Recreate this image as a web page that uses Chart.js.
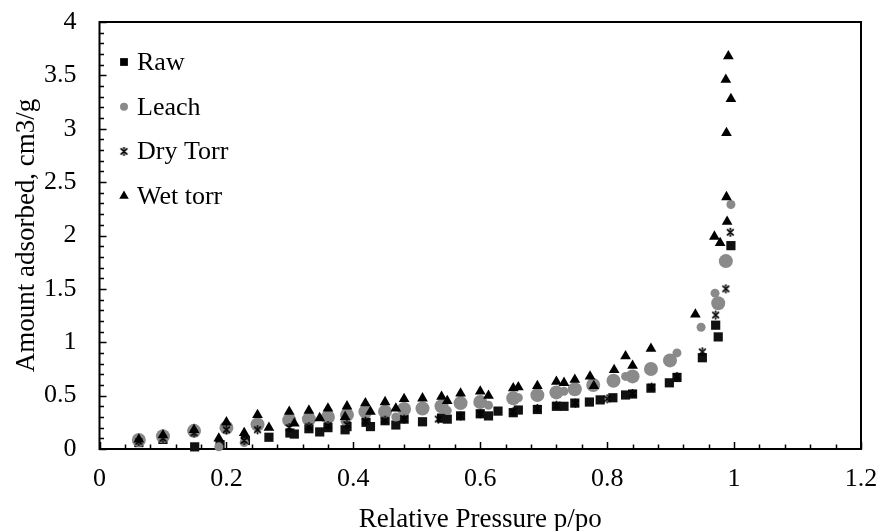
<!DOCTYPE html>
<html>
<head>
<meta charset="utf-8">
<script src="https://cdn.jsdelivr.net/npm/chart.js@4/dist/chart.umd.min.js"></script>
<style>
  html, body { margin: 0; padding: 0; background: #fff; }
</style>
</head>
<body>
<canvas id="myChart" width="880" height="531"></canvas>
<script>
// isotherm data (x = relative pressure, y = amount adsorbed)
let rawX = [0.062, 0.1, 0.15, 0.19, 0.23, 0.267, 0.3, 0.307, 0.33, 0.347, 0.36, 0.387, 0.39, 0.42, 0.427, 0.45, 0.467, 0.48, 0.509, 0.539, 0.548, 0.569, 0.6, 0.613, 0.628, 0.652, 0.66, 0.69, 0.72, 0.732, 0.749, 0.772, 0.789, 0.809, 0.829, 0.84, 0.869, 0.898, 0.91, 0.95, 0.971, 0.975, 0.995]
let rawY = [0.06, 0.09, 0.02, 0.04, 0.08, 0.11, 0.15, 0.14, 0.19, 0.16, 0.2, 0.18, 0.21, 0.25, 0.21, 0.265, 0.225, 0.28, 0.255, 0.29, 0.28, 0.31, 0.33, 0.31, 0.355, 0.34, 0.365, 0.37, 0.4, 0.4, 0.43, 0.44, 0.46, 0.48, 0.506, 0.515, 0.57, 0.62, 0.67, 0.855, 1.16, 1.05, 1.905]

// leach has big markers on one branch and small ones on the other
let leachX = [0.062, 0.1, 0.149, 0.2, 0.249, 0.299, 0.33, 0.36, 0.39, 0.419, 0.45, 0.48, 0.509, 0.539, 0.569, 0.6, 0.652, 0.69, 0.72, 0.749, 0.778, 0.81, 0.84, 0.869, 0.899, 0.975, 0.987]
let leachY = [0.085, 0.12, 0.17, 0.2, 0.23, 0.27, 0.28, 0.3, 0.32, 0.35, 0.35, 0.375, 0.38, 0.4, 0.43, 0.44, 0.475, 0.505, 0.53, 0.56, 0.6, 0.64, 0.68, 0.75, 0.83, 1.365, 1.76]
let leach2X = [0.188, 0.228, 0.387, 0.467, 0.548, 0.613, 0.66, 0.732, 0.829, 0.91, 0.948, 0.97, 0.995]
let leach2Y = [0.02, 0.06, 0.26, 0.3, 0.36, 0.41, 0.48, 0.54, 0.68, 0.9, 1.14, 1.46, 2.29]

let dryX = [0.062, 0.1, 0.149, 0.2, 0.228, 0.249, 0.299, 0.33, 0.36, 0.39, 0.419, 0.45, 0.48, 0.534, 0.569, 0.6, 0.652, 0.69, 0.72, 0.75, 0.8, 0.84, 0.87, 0.91, 0.95, 0.971, 0.987, 0.994]
let dryY = [0.07, 0.1, 0.15, 0.18, 0.08, 0.18, 0.2, 0.21, 0.22, 0.23, 0.26, 0.27, 0.28, 0.28, 0.31, 0.33, 0.35, 0.38, 0.41, 0.43, 0.47, 0.52, 0.58, 0.68, 0.91, 1.255, 1.5, 2.03]

let wetX = [0.062, 0.1, 0.149, 0.188, 0.2, 0.228, 0.249, 0.267, 0.299, 0.307, 0.33, 0.347, 0.36, 0.387, 0.39, 0.419, 0.427, 0.45, 0.467, 0.48, 0.509, 0.539, 0.548, 0.569, 0.6, 0.613, 0.652, 0.66, 0.69, 0.72, 0.732, 0.749, 0.773, 0.779, 0.811, 0.829, 0.84, 0.869, 0.939, 0.969, 0.978, 0.988, 0.989, 0.988, 0.987, 0.991, 0.995]
let wetY = [0.09, 0.13, 0.18, 0.1, 0.25, 0.15, 0.32, 0.2, 0.35, 0.24, 0.36, 0.29, 0.38, 0.3, 0.4, 0.43, 0.35, 0.44, 0.38, 0.47, 0.475, 0.49, 0.45, 0.52, 0.54, 0.5, 0.57, 0.58, 0.59, 0.63, 0.62, 0.65, 0.68, 0.59, 0.74, 0.87, 0.78, 0.94, 1.26, 1.99, 1.93, 2.36, 2.13, 2.96, 3.46, 3.68, 3.28]

let seriesNames = ['Raw', 'Leach', 'Dry Torr', 'Wet torr']
let xTicks = [0, 0.2, 0.4, 0.6, 0.8, 1, 1.2]
let yTicks = [0, 0.5, 1, 1.5, 2, 2.5, 3, 3.5, 4]

let serif = "'Liberation Serif', 'Times New Roman', serif"
let gray = '#8a8a8a'

// zip two arrays into {x, y} points
function toPoints(xs, ys) {
  let pts = []
  for (let i = 0; i < xs.length; i++) {
    pts.push({ x: xs[i], y: ys[i] })
  }
  return pts
}

// excel style "star" marker: an X with a vertical bar through it
function makeStar(size) {
  let c = document.createElement('canvas')
  c.width = size
  c.height = size
  let g = c.getContext('2d')
  let m = size / 2
  let r = size / 2 - 1
  g.strokeStyle = '#000'
  g.lineWidth = 1.7
  g.beginPath()
  g.moveTo(m - r * 0.75, m - r * 0.7); g.lineTo(m + r * 0.75, m + r * 0.7)
  g.moveTo(m + r * 0.75, m - r * 0.7); g.lineTo(m - r * 0.75, m + r * 0.7)
  g.moveTo(m, m - r); g.lineTo(m, m - r * 0.45)
  g.moveTo(m, m + r * 0.45); g.lineTo(m, m + r)
  g.stroke()
  return c
}
let star = makeStar(11)

let fmt = function(v) {
  return String(Math.round(v * 10) / 10)
}

// box round the plot plus small inward tick marks
let frame = {
  id: 'frame',
  beforeDatasetsDraw(chart) {
    let ctx = chart.ctx
    let a = chart.chartArea
    let sx = chart.scales.x
    let sy = chart.scales.y
    ctx.save()
    ctx.strokeStyle = '#000'
    ctx.lineWidth = 2
    ctx.strokeRect(a.left, a.top, a.right - a.left, a.bottom - a.top)
    ctx.lineWidth = 1.5
    ctx.beginPath()
    for (let i = 0; i <= 30; i++) {
      let px = Math.round(sx.getPixelForValue(i * 0.04)) + 0.5
      let len = (i % 5 === 0) ? 7 : 4.5
      ctx.moveTo(px, a.bottom)
      ctx.lineTo(px, a.bottom - len)
    }
    for (let i = 0; i <= 40; i++) {
      let py = Math.round(sy.getPixelForValue(i * 0.1)) + 0.5
      let len = (i % 5 === 0) ? 7 : 4.5
      ctx.moveTo(a.left, py)
      ctx.lineTo(a.left + len, py)
    }
    ctx.stroke()
    ctx.restore()
  }
}

// legend drawn inside the plot, top left, one entry per line
let innerLegend = {
  id: 'innerLegend',
  afterDraw(chart) {
    let ctx = chart.ctx
    let styles = [
      { pointStyle: 'rect', radius: 5.5, color: '#000' },
      { pointStyle: 'circle', radius: 4, color: gray },
      { pointStyle: star, radius: 5, color: '#000' },
      { pointStyle: 'triangle', radius: 5.5, color: '#000' }
    ]
    ctx.save()
    ctx.font = '26px ' + serif
    ctx.textBaseline = 'middle'
    ctx.textAlign = 'left'
    for (let i = 0; i < seriesNames.length; i++) {
      let y = 62 + i * 44.7
      ctx.fillStyle = styles[i].color
      ctx.strokeStyle = styles[i].color
      Chart.helpers.drawPoint(ctx, { pointStyle: styles[i].pointStyle, radius: styles[i].radius, rotation: 0, borderWidth: 0 }, 124, y)
      ctx.fillStyle = '#000'
      ctx.fillText(seriesNames[i], 137, y + 1)
    }
    ctx.restore()
  }
}

let ctx = document.getElementById('myChart').getContext('2d')
let chart = new Chart(ctx, {
  type: 'scatter',
  data: {
    datasets: [{
      label: seriesNames[0],
      data: toPoints(rawX, rawY),
      pointStyle: 'rect',
      pointRadius: 6.5,
      backgroundColor: '#111',
      borderColor: '#111',
      borderWidth: 0,
      order: 5,
      clip: false
    }, {
      label: seriesNames[1],
      data: toPoints(leachX, leachY),
      pointStyle: 'circle',
      pointRadius: 7,
      backgroundColor: gray,
      borderColor: gray,
      borderWidth: 0,
      order: 4,
      clip: false
    }, {
      label: seriesNames[1] + ' (2)',
      data: toPoints(leach2X, leach2Y),
      pointStyle: 'circle',
      pointRadius: 4.5,
      backgroundColor: gray,
      borderColor: gray,
      borderWidth: 0,
      order: 3,
      clip: false
    }, {
      label: seriesNames[2],
      data: toPoints(dryX, dryY),
      pointStyle: star,
      pointRadius: 5,
      backgroundColor: '#000',
      borderColor: '#000',
      order: 2,
      clip: false
    }, {
      label: seriesNames[3],
      data: toPoints(wetX, wetY),
      pointStyle: 'triangle',
      pointRadius: 6.2,
      backgroundColor: '#000',
      borderColor: '#000',
      borderWidth: 0,
      order: 1,
      clip: false
    }]
  },
  options: {
    responsive: false,
    animation: false,
    devicePixelRatio: 1,
    layout: { padding: { top: 22, right: 19, left: 0, bottom: 0 } },
    plugins: {
      legend: { display: false },
      tooltip: { enabled: false }
    },
    scales: {
      x: {
        type: 'linear',
        min: 0,
        max: 1.2,
        afterBuildTicks: function(scale) {
          scale.ticks = xTicks.map(function(v) { return { value: v } })
        },
        ticks: {
          callback: fmt,
          color: '#000',
          padding: 15,
          maxRotation: 0,
          font: { family: serif, size: 26 }
        },
        grid: { display: false, drawTicks: false },
        border: { display: false },
        title: {
          display: true,
          text: 'Relative Pressure p/po',
          color: '#000',
          font: { family: serif, size: 27, lineHeight: 1 },
          padding: { top: 0, bottom: -2 }
        },
        // fixed height, and no extra room reserved for the half "1.2" label
        afterFit: function(scale) {
          scale.height = 82
          scale.paddingLeft = 0
          scale.paddingRight = 0
        }
      },
      y: {
        type: 'linear',
        min: 0,
        max: 4,
        afterBuildTicks: function(scale) {
          scale.ticks = yTicks.map(function(v) { return { value: v } })
        },
        ticks: {
          callback: fmt,
          color: '#000',
          padding: 23,
          font: { family: serif, size: 26 }
        },
        grid: { display: false, drawTicks: false },
        border: { display: false },
        title: {
          display: true,
          text: 'Amount adsorbed, cm3/g',
          color: '#000',
          font: { family: serif, size: 27, lineHeight: 1 },
          padding: { top: 13, bottom: 0 }
        },
        afterFit: function(scale) {
          scale.width = 99.5
          scale.paddingTop = 0
          scale.paddingBottom = 0
        }
      }
    }
  },
  plugins: [frame, innerLegend]
})
</script>
</body>
</html>
